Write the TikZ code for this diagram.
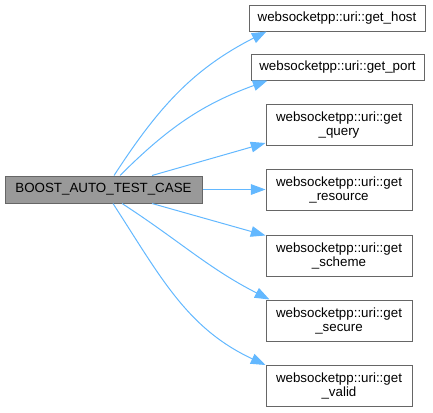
\documentclass[tikz,border=0pt]{standalone}
\usepackage{fontspec}
\setmainfont{Liberation Sans}
\usetikzlibrary{arrows.meta}
\definecolor{edgeblue}{HTML}{63B8FF}
\definecolor{boxgrey}{HTML}{666666}
\definecolor{rootgrey}{HTML}{999999}

\begin{document}
\begin{tikzpicture}[x=0.75pt, y=-0.75pt, font=\fontsize{10}{10.5}\selectfont,
	fn/.style={draw=boxgrey, fill=white, line width=0.75pt, align=center, inner sep=0pt},
	call/.style={draw=edgeblue, line width=0.75pt, -{Triangle[length=11pt,width=8pt,fill=edgeblue]}}]
	\useasboundingbox (0,0) rectangle (433,412);
	\node[fn, fill=rootgrey, minimum width=147.75pt, minimum height=20.25pt] (test) at (103.5,189.5) {BOOST\_AUTO\_TEST\_CASE};
	\node[fn, minimum width=132pt, minimum height=19.5pt] (host) at (337,18) {websocketpp::uri::get\_host};
	\node[fn, minimum width=129.75pt, minimum height=19.5pt] (port) at (337.5,67) {websocketpp::uri::get\_port};
	\foreach \n/\y in {query/125, resource/189.5, scheme/255.5, secure/320.5, valid/386}
		\node[fn, minimum width=109.5pt, minimum height=30.75pt] (\n) at (339,\y) {websocketpp::uri::get\\\_\n};
	% calls from the test case
	\draw[call] ([xshift=7.9pt]test.north) to[out=57,in=207] ([xshift=13.5pt]host.south west);
	\draw[call] ([xshift=12.4pt]test.north) to[out=45,in=200] ([xshift=12.75pt]port.south west);
	\draw[call] ([xshift=36.4pt]test.north) -- ([yshift=2.25pt]query.south west);
	\draw[call] (test.east) -- (resource.west);
	\draw[call] ([xshift=36.4pt]test.south) -- ([yshift=-0.75pt]scheme.north west);
	\draw[call] ([xshift=13.9pt]test.south) to[out=-33,in=153] ([xshift=3pt]secure.north west);
	\draw[call] ([xshift=7.1pt]test.south) to[out=-57,in=155] (valid.north west);
\end{tikzpicture}
\end{document}
